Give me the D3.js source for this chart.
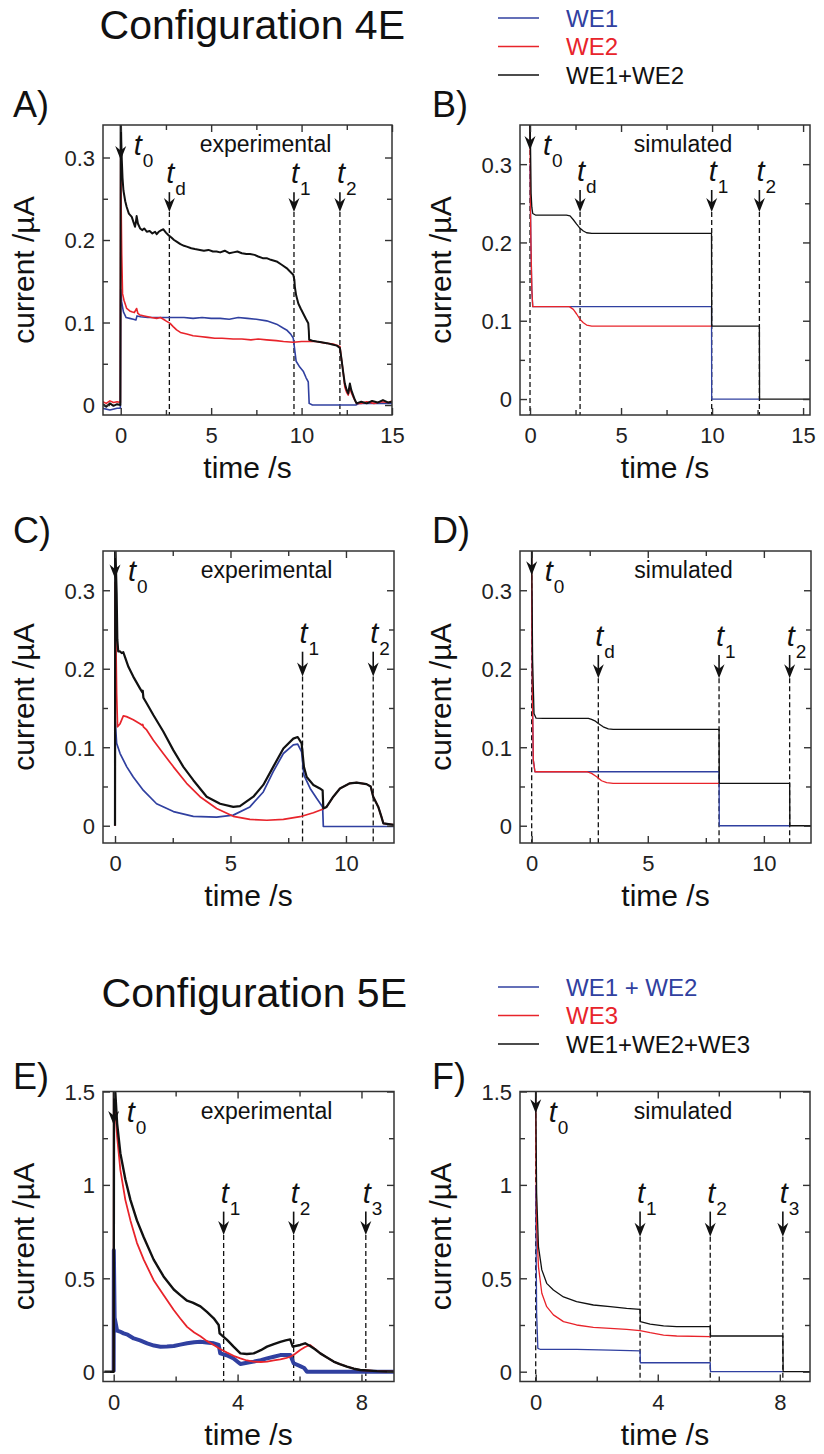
<!DOCTYPE html>
<html><head><meta charset="utf-8">
<script src="https://cdn.jsdelivr.net/npm/d3@7"></script>
<style>
body{margin:0;background:#fff}
svg text{font-family:"Liberation Sans",Arial,Helvetica,sans-serif}
</style></head>
<body><svg id="chart" width="824" height="1454"></svg>
<script>
// ---------------- DATA ----------------
// Panel A (config 4E, experimental) [time s, current µA]
const aBlue = [[-1.0,-0.004],[-0.6,-0.006],[-0.2,-0.004],[-0.02,-0.004],[0.0,0.14],[0.05,0.125],[0.15,0.113],[0.3,0.106],[0.5,0.105],[0.7,0.104],[0.84,0.103],[0.9,0.108],[1.1,0.107],[1.5,0.106],[2.0,0.106],[2.5,0.106],[3.0,0.106],[3.5,0.106],[4.0,0.105],[4.5,0.106],[5.0,0.105],[5.5,0.105],[6.0,0.104],[6.5,0.106],[7.0,0.105],[7.5,0.104],[8.07,0.102],[8.62,0.098],[9.0,0.093],[9.17,0.091],[9.4,0.086],[9.54,0.081],[9.63,0.065],[9.7,0.053],[9.9,0.046],[10.09,0.041],[10.25,0.033],[10.37,0.028],[10.42,0.002],[10.6,0.0],[11.0,0.0],[12.0,0.0],[13.0,0.0],[13.2,0.002],[15.0,0.002]];
const aRed = [[-1.0,0.004],[-0.8,0.002],[-0.6,0.005],[-0.4,0.003],[-0.2,0.004],[-0.02,0.003],[0.0,0.30],[0.03,0.23],[0.055,0.184],[0.1,0.135],[0.18,0.127],[0.33,0.117],[0.5,0.114],[0.61,0.113],[0.75,0.112],[0.88,0.117],[0.95,0.111],[1.07,0.109],[1.3,0.108],[1.5,0.107],[1.7,0.106],[1.99,0.105],[2.2,0.106],[2.36,0.104],[2.5,0.102],[2.73,0.099],[2.9,0.095],[3.09,0.091],[3.3,0.088],[3.65,0.086],[4.0,0.084],[4.38,0.083],[4.8,0.082],[5.2,0.081],[5.6,0.081],[6.22,0.080],[6.7,0.080],[7.2,0.079],[7.6,0.080],[8.07,0.079],[8.6,0.078],[9.0,0.077],[9.54,0.076],[10.0,0.077],[10.5,0.077],[10.83,0.077],[11.3,0.075],[11.75,0.074],[12.12,0.071],[12.21,0.055],[12.3,0.04],[12.39,0.022],[12.5,0.015],[12.58,0.012],[12.67,0.022],[12.75,0.015],[12.85,0.01],[13.04,0.002],[13.3,0.002],[13.6,0.004],[14.0,0.002],[14.4,0.004],[14.8,0.003],[15.0,0.005]];
const aBlack = [[-1.0,0.001],[-0.8,-0.002],[-0.6,0.002],[-0.4,-0.001],[-0.2,0.001],[-0.02,0.0],[0.0,0.36],[0.03,0.32],[0.06,0.297],[0.1,0.275],[0.15,0.26],[0.25,0.247],[0.33,0.24],[0.45,0.232],[0.61,0.228],[0.7,0.222],[0.79,0.216],[0.84,0.222],[0.88,0.229],[0.95,0.22],[1.07,0.214],[1.2,0.212],[1.3,0.214],[1.44,0.21],[1.6,0.211],[1.75,0.208],[1.9,0.21],[1.99,0.207],[2.1,0.21],[2.25,0.212],[2.36,0.213],[2.5,0.209],[2.63,0.206],[2.8,0.203],[2.95,0.2],[3.09,0.198],[3.3,0.195],[3.5,0.193],[3.65,0.192],[3.9,0.19],[4.1,0.189],[4.38,0.188],[4.6,0.187],[4.85,0.188],[5.1,0.186],[5.3,0.186],[5.5,0.185],[5.75,0.187],[6.0,0.184],[6.22,0.185],[6.45,0.186],[6.7,0.184],[6.95,0.183],[7.15,0.183],[7.4,0.182],[7.6,0.18],[7.85,0.178],[8.07,0.178],[8.3,0.176],[8.62,0.174],[8.9,0.17],[9.17,0.166],[9.4,0.161],[9.54,0.158],[9.6,0.152],[9.63,0.143],[9.7,0.133],[9.82,0.123],[9.95,0.117],[10.09,0.111],[10.25,0.104],[10.37,0.099],[10.40,0.09],[10.42,0.079],[10.6,0.078],[10.83,0.077],[11.1,0.076],[11.4,0.075],[11.75,0.073],[11.95,0.072],[12.12,0.069],[12.21,0.055],[12.3,0.04],[12.39,0.026],[12.5,0.018],[12.58,0.014],[12.67,0.026],[12.75,0.018],[12.85,0.012],[12.95,0.006],[13.04,0.002],[13.3,0.004],[13.6,0.002],[13.9,0.005],[14.2,0.003],[14.5,0.006],[14.8,0.003],[15.0,0.004]];
const aEventTimes = [0, 2.69, 9.58, 12.12];
const aEventSubs = ["0","d","1","2"];

// Panel B (config 4E, simulated)
const bBlue = [[0.0,0.3],[0.05,0.2],[0.1,0.14],[0.15,0.118],[2.16,0.118],[9.97,0.118],[9.98,0.0],[12.6,0.0]];
const bRed = [[0.0,0.35],[0.02,0.25],[0.05,0.2],[0.1,0.14],[0.15,0.118],[0.3,0.118],[2.16,0.118],[2.38,0.1145],[2.56,0.1086],[2.75,0.1017],[2.93,0.0975],[3.11,0.0945],[3.39,0.0932],[9.97,0.093]];
const bBlack = [[0.0,0.35],[0.03,0.32],[0.06,0.263],[0.1,0.245],[0.15,0.237],[0.3,0.235],[1.0,0.235],[2.0,0.235],[2.2,0.234],[2.38,0.229],[2.56,0.2235],[2.75,0.218],[2.93,0.2146],[3.11,0.2124],[3.39,0.2116],[5.0,0.2115],[9.97,0.2115],[9.98,0.093],[12.6,0.093],[12.61,0.0],[15.4,0.0]];
const bEventTimes = [0, 2.75, 9.98, 12.6];
const bEventSubs = ["0","d","1","2"];

// Panel C (config 4E, experimental)
const cBlue = [[0.0,0.0],[0.005,0.135],[0.07,0.105],[0.22,0.092],[0.51,0.075],[0.79,0.062],[1.23,0.045],[1.8,0.028],[2.53,0.018],[3.39,0.012],[4.4,0.011],[5.12,0.0135],[5.84,0.024],[6.42,0.043],[6.85,0.069],[7.29,0.092],[7.72,0.103],[7.91,0.104],[8.08,0.094],[8.18,0.0645],[8.45,0.0475],[8.73,0.035],[8.99,0.024],[9.02,-0.001],[12.1,-0.001]];
const cRed = [[0.0,0.0],[0.005,0.31],[0.07,0.169],[0.11,0.126],[0.22,0.130],[0.36,0.14],[0.5,0.139],[0.79,0.135],[1.08,0.13],[1.18,0.128],[1.2,0.129],[1.23,0.126],[1.37,0.122],[1.66,0.109],[2.09,0.092],[2.53,0.075],[3.1,0.054],[3.68,0.037],[4.4,0.022],[5.12,0.012],[5.84,0.008],[6.57,0.007],[7.29,0.008],[8.01,0.0115],[8.59,0.0165],[8.99,0.021],[9.02,0.022],[9.16,0.024],[9.45,0.037],[9.74,0.0475],[10.17,0.054],[10.46,0.055],[10.89,0.053],[11.07,0.05],[11.18,0.037],[11.40,0.024],[11.54,0.011],[11.62,0.003],[12.1,0.001]];
const cBlack = [[0.0,0.0],[0.01,0.36],[0.07,0.296],[0.1,0.237],[0.14,0.222],[0.22,0.222],[0.29,0.220],[0.36,0.221],[0.43,0.215],[0.58,0.2025],[0.79,0.19],[1.08,0.175],[1.18,0.170],[1.2,0.172],[1.23,0.163],[1.37,0.156],[1.66,0.141],[2.09,0.12],[2.53,0.096],[2.96,0.075],[3.39,0.058],[3.97,0.037],[4.55,0.028],[5.12,0.024],[5.41,0.025],[5.99,0.037],[6.42,0.052],[6.85,0.075],[7.29,0.0985],[7.72,0.111],[7.91,0.113],[8.08,0.105],[8.18,0.075],[8.30,0.062],[8.59,0.052],[8.87,0.0475],[8.99,0.045],[9.02,0.022],[9.16,0.024],[9.45,0.037],[9.74,0.0475],[10.17,0.054],[10.46,0.055],[10.89,0.053],[11.07,0.05],[11.18,0.037],[11.40,0.024],[11.54,0.011],[11.62,0.003],[12.1,0.001]];
const cEventTimes = [0, 8.12, 11.18];
const cEventSubs = ["0","1","2"];

// Panel D (config 4E, simulated)
const dBlue = [[0.0,0.3],[0.03,0.169],[0.07,0.084],[0.14,0.0688],[8.07,0.0688],[8.08,0.0],[11.11,0.0]];
const dRed = [[0.0,0.35],[0.01,0.25],[0.03,0.169],[0.07,0.084],[0.14,0.0688],[2.37,0.0688],[2.58,0.0667],[2.80,0.0624],[3.01,0.0573],[3.23,0.0548],[3.51,0.054],[8.07,0.054]];
const dBlack = [[0.0,0.35],[0.04,0.211],[0.1,0.143],[0.19,0.137],[0.5,0.1367],[2.44,0.1367],[2.58,0.1354],[2.72,0.1337],[2.87,0.1303],[3.08,0.126],[3.30,0.1235],[3.51,0.1227],[8.07,0.1227],[8.08,0.054],[11.11,0.054],[11.12,0.0],[12.1,0.0]];
const dEventTimes = [0, 2.87, 8.07, 11.11];
const dEventSubs = ["0","d","1","2"];

// Panel E (config 5E, experimental)
const eBlue = [[0.0,0.0],[0.005,0.65],[0.03,0.29],[0.11,0.22],[0.2,0.215],[0.32,0.205],[0.45,0.198],[0.65,0.178],[0.85,0.168],[1.08,0.152],[1.3,0.14],[1.51,0.134],[1.72,0.135],[1.94,0.1375],[2.15,0.145],[2.37,0.152],[2.6,0.158],[2.8,0.16],[3.0,0.156],[3.23,0.152],[3.39,0.143],[3.44,0.098],[3.65,0.088],[3.87,0.071],[4.09,0.041],[4.3,0.048],[4.52,0.054],[4.75,0.062],[4.95,0.071],[5.17,0.08],[5.38,0.089],[5.55,0.09],[5.70,0.089],[5.81,0.045],[6.02,0.030],[6.15,0.02],[6.24,0.0],[9.05,0.0]];
const eRed = [[0.0,0.0],[0.005,1.55],[0.054,1.40],[0.11,1.26],[0.215,1.08],[0.376,0.92],[0.54,0.81],[0.75,0.69],[0.97,0.60],[1.29,0.49],[1.61,0.41],[1.94,0.33],[2.15,0.285],[2.37,0.24],[2.6,0.21],[2.8,0.19],[3.0,0.165],[3.23,0.143],[3.45,0.12],[3.66,0.102],[3.87,0.085],[4.09,0.071],[4.3,0.06],[4.52,0.054],[4.75,0.052],[4.95,0.054],[5.17,0.06],[5.38,0.066],[5.55,0.072],[5.70,0.080],[5.85,0.095],[6.02,0.116],[6.18,0.132],[6.34,0.143],[6.5,0.122],[6.67,0.098],[6.9,0.075],[7.10,0.054],[7.3,0.04],[7.53,0.027],[7.75,0.016],[7.96,0.009],[8.5,0.003],[9.05,0.0]];
const eBlack = [[-0.3,0.0],[-0.02,0.0],[0.0,0.0],[0.01,1.55],[0.054,1.49],[0.11,1.33],[0.215,1.17],[0.376,1.03],[0.54,0.92],[0.75,0.81],[0.97,0.72],[1.29,0.60],[1.61,0.51],[1.94,0.44],[2.15,0.41],[2.37,0.38],[2.55,0.37],[2.8,0.35],[3.01,0.32],[3.23,0.286],[3.39,0.25],[3.42,0.205],[3.66,0.17],[3.87,0.134],[4.09,0.098],[4.3,0.095],[4.52,0.098],[4.75,0.115],[4.95,0.134],[5.17,0.148],[5.38,0.16],[5.55,0.168],[5.70,0.173],[5.78,0.134],[6.02,0.143],[6.18,0.152],[6.34,0.1375],[6.5,0.12],[6.67,0.098],[6.9,0.075],[7.10,0.054],[7.3,0.04],[7.53,0.027],[7.75,0.016],[7.96,0.009],[8.5,0.003],[9.05,0.0]];
const eEventTimes = [0, 3.55, 5.81, 8.14];
const eEventSubs = ["0","1","2","3"];

// Panel F (config 5E, simulated)
const fBlue = [[0.0,1.0],[0.03,0.3125],[0.07,0.125],[0.14,0.12],[1.34,0.12],[2.44,0.116],[3.42,0.111],[3.43,0.048],[5.72,0.048],[5.73,0.0],[8.1,0.0]];
const fRed = [[0.0,1.5],[0.005,1.19],[0.03,0.78],[0.09,0.5625],[0.2,0.42],[0.36,0.348],[0.58,0.304],[0.91,0.268],[1.34,0.25],[1.89,0.2375],[2.44,0.232],[2.98,0.227],[3.42,0.22],[3.75,0.209],[4.19,0.196],[4.62,0.191],[5.72,0.1875]];
const fBlack = [[0.0,1.5],[0.03,0.955],[0.09,0.67],[0.2,0.545],[0.36,0.473],[0.58,0.4375],[0.91,0.40],[1.34,0.375],[1.89,0.357],[2.44,0.348],[2.98,0.339],[3.42,0.334],[3.43,0.268],[3.75,0.255],[4.19,0.245],[4.62,0.241],[5.72,0.241],[5.73,0.191],[8.1,0.191],[8.11,0.0],[9.0,0.0]];
const fEventTimes = [0, 3.42, 5.72, 8.1];
const fEventSubs = ["0","1","2","3"];

// Tick values
const yTicksSmallMajor = [0, 0.1, 0.2, 0.3];
const yTicksSmallMinor = [0.05, 0.15, 0.25];
const yTicksLargeMajor = [0, 0.5, 1, 1.5];
const yTicksLargeMinor = [0.25, 0.75, 1.25];
const xTicks15Major = [0, 5, 10, 15];
const xTicks15Minor = [2.5, 7.5, 12.5];
const xTicks12Major = [0, 5, 10];
const xTicks12Minor = [2.5, 7.5];
const xTicks9Major = [0, 4, 8];
const xTicks9Minor = [2, 6];

// Legends
const legend4Labels = ["WE1", "WE2", "WE1+WE2"];
const legend5Labels = ["WE1 + WE2", "WE3", "WE1+WE2+WE3"];

// ---------------- STYLE / LAYOUT ----------------
const BLUE = "#3040a0", RED = "#e8242b", BLACK = "#111111", AX = "#333333";
const svg = d3.select("#chart");

const panels = [
  {id:"A", label:"A)", note:"experimental", left:103, right:392, top:125, bottom:415,
   xd:[-0.98,15.0], yd:[-0.0121,0.3394], xMaj:xTicks15Major, xMin:xTicks15Minor, yMaj:yTicksSmallMajor, yMin:yTicksSmallMinor,
   series:[[aBlue,BLUE,1.6],[aRed,RED,1.6],[aBlack,BLACK,2.0]], ev:aEventTimes, sub:aEventSubs, arrow:[0.258,0.234], t0tip:0.297, t0dash:false},
  {id:"B", label:"B)", note:"simulated", left:520, right:810, top:125, bottom:415,
   xd:[-0.55,15.38], yd:[-0.0204,0.35], xMaj:xTicks15Major, xMin:xTicks15Minor, yMaj:yTicksSmallMajor, yMin:yTicksSmallMinor,
   series:[[bBlue,BLUE,1.3],[bRed,RED,1.3],[bBlack,BLACK,1.3]], ev:bEventTimes, sub:bEventSubs, arrow:[0.267,0.239], t0tip:0.318, t0dash:true},
  {id:"C", label:"C)", note:"experimental", left:103, right:394, top:551, bottom:843,
   xd:[-0.52,12.08], yd:[-0.022,0.35], xMaj:xTicks12Major, xMin:xTicks12Minor, yMaj:yTicksSmallMajor, yMin:yTicksSmallMinor,
   series:[[cBlue,BLUE,1.7],[cRed,RED,1.7],[cBlack,BLACK,2.2]], ev:cEventTimes, sub:cEventSubs, arrow:[0.2217,0.19], t0tip:0.315, t0dash:false},
  {id:"D", label:"D)", note:"simulated", left:520, right:811, top:551, bottom:843,
   xd:[-0.503,12.03], yd:[-0.022,0.35], xMaj:xTicks12Major, xMin:xTicks12Minor, yMaj:yTicksSmallMajor, yMin:yTicksSmallMinor,
   series:[[dBlue,BLUE,1.3],[dRed,RED,1.3],[dBlack,BLACK,1.3]], ev:dEventTimes, sub:dEventSubs, arrow:[0.2175,0.188], t0tip:0.319, t0dash:true},
  {id:"E", label:"E)", note:"experimental", left:103, right:394, top:1091.5, bottom:1381.5,
   xd:[-0.345,9.05], yd:[-0.0525,1.5], xMaj:xTicks9Major, xMin:xTicks9Minor, yMaj:yTicksLargeMajor, yMin:yTicksLargeMinor,
   series:[[eBlue,BLUE,4],[eRed,RED,1.8],[eBlack,BLACK,2.4]], ev:eEventTimes, sub:eEventSubs, arrow:[0.857,0.732], t0tip:1.32, t0dash:false},
  {id:"F", label:"F)", note:"simulated", left:520, right:810, top:1091.5, bottom:1381.5,
   xd:[-0.515,8.99], yd:[-0.0525,1.5], xMaj:xTicks9Major, xMin:xTicks9Minor, yMaj:yTicksLargeMajor, yMin:yTicksLargeMinor,
   series:[[fBlue,BLUE,1.3],[fRed,RED,1.3],[fBlack,BLACK,1.3]], ev:fEventTimes, sub:fEventSubs, arrow:[0.857,0.723], t0tip:1.384, t0dash:true}
];

function tickAxis(g, axisFn, scale, vals, size, transform, fmt){
  const a = g.append("g").attr("transform", transform)
    .call(axisFn(scale).tickValues(vals).tickSizeInner(-size).tickSizeOuter(0).tickFormat(fmt || (() => "")));
  a.select(".domain").remove();
  a.selectAll("line").attr("stroke", AX).attr("stroke-width", 1.4);
  a.attr("font-family", null).attr("font-size", null);
  return a;
}

function arrowHead(g, xp, tip){
  g.append("path")
    .attr("d", `M${xp},${tip} L${xp-5.5},${tip-14} L${xp},${tip-9.5} L${xp+5.5},${tip-14} Z`)
    .attr("fill", BLACK);
}

panels.forEach(p => {
  const x = d3.scaleLinear().domain(p.xd).range([p.left, p.right]);
  const y = d3.scaleLinear().domain(p.yd).range([p.bottom, p.top]);
  const g = svg.append("g");
  const clipId = "clip" + p.id;
  svg.append("clipPath").attr("id", clipId).append("rect")
    .attr("x", p.left).attr("y", p.top).attr("width", p.right - p.left).attr("height", p.bottom - p.top);

  // event dashed lines
  p.ev.forEach((t, i) => {
    const xp = x(t);
    if (i === 0) {
      if (p.t0dash) g.append("line").attr("x1", xp).attr("x2", xp).attr("y1", y(p.t0tip)).attr("y2", p.bottom)
        .attr("stroke", BLACK).attr("stroke-width", 1.3).attr("stroke-dasharray", "5,3");
    } else {
      g.append("line").attr("x1", xp).attr("x2", xp).attr("y1", y(p.arrow[1])).attr("y2", p.bottom)
        .attr("stroke", BLACK).attr("stroke-width", 1.3).attr("stroke-dasharray", "5,3");
    }
  });

  // series
  const line = d3.line().x(d => x(d[0])).y(d => y(d[1]));
  const sg = g.append("g").attr("clip-path", `url(#${clipId})`);
  p.series.forEach(([data, color, w]) => {
    sg.append("path").attr("d", line(data)).attr("fill", "none").attr("stroke", color)
      .attr("stroke-width", w).attr("stroke-linejoin", "round");
  });

  // arrows + labels
  p.ev.forEach((t, i) => {
    const xp = x(t);
    let top, tip, tx, tyBase;
    if (i === 0) { top = p.top; tip = y(p.t0tip); tx = xp + 13; tyBase = p.top + 30; }
    else { top = y(p.arrow[0]); tip = y(p.arrow[1]); tx = xp - 3; tyBase = top - 9; }
    g.append("line").attr("x1", xp).attr("x2", xp).attr("y1", top).attr("y2", tip - 7)
      .attr("stroke", BLACK).attr("stroke-width", 1.6);
    arrowHead(g, xp, tip);
    g.append("text").attr("x", tx).attr("y", tyBase).attr("font-size", 29).attr("font-style", "italic")
      .attr("fill", BLACK).text("t");
    g.append("text").attr("x", tx + 9).attr("y", tyBase + 12).attr("font-size", 19)
      .attr("fill", BLACK).text(p.sub[i]);
  });

  // note text
  g.append("text").attr("x", (p.left + p.right) / 2 + 18).attr("y", p.top + 27).attr("text-anchor", "middle")
    .attr("font-size", 23).attr("fill", BLACK).text(p.note);

  // frame
  g.append("rect").attr("x", p.left).attr("y", p.top).attr("width", p.right - p.left).attr("height", p.bottom - p.top)
    .attr("fill", "none").attr("stroke", AX).attr("stroke-width", 1.5);

  // ticks
  const fmt = d => String(d);
  const bMaj = tickAxis(g, d3.axisBottom, x, p.xMaj, 7, `translate(0,${p.bottom})`, fmt);
  bMaj.selectAll("text").attr("y", 28).attr("dy", null).attr("font-size", 22).attr("fill", "#222");
  tickAxis(g, d3.axisBottom, x, p.xMin, 5, `translate(0,${p.bottom})`);
  tickAxis(g, d3.axisTop, x, p.xMaj, 7, `translate(0,${p.top})`);
  tickAxis(g, d3.axisTop, x, p.xMin, 5, `translate(0,${p.top})`);
  const lMaj = tickAxis(g, d3.axisLeft, y, p.yMaj, 7, `translate(${p.left},0)`, fmt);
  lMaj.selectAll("text").attr("x", -8).attr("dy", "0.36em").attr("font-size", 22).attr("fill", "#222");
  tickAxis(g, d3.axisLeft, y, p.yMin, 5, `translate(${p.left},0)`);
  tickAxis(g, d3.axisRight, y, p.yMaj, 7, `translate(${p.right},0)`);
  tickAxis(g, d3.axisRight, y, p.yMin, 5, `translate(${p.right},0)`);

  // axis titles
  g.append("text").attr("x", (p.left + p.right) / 2).attr("y", p.bottom + 63).attr("text-anchor", "middle")
    .attr("font-size", 30).attr("fill", BLACK).text("time /s");
  g.append("text").attr("transform", `translate(${p.left - 69},${(p.top + p.bottom) / 2}) rotate(-90)`)
    .attr("text-anchor", "middle").attr("font-size", 30).attr("fill", BLACK).text("current /µA");

  // panel label
  svg.append("text").attr("x", p.left < 300 ? 13 : 432).attr("y", p.top - (p.id === "E" || p.id === "F" ? 3 : 8))
    .attr("font-size", 36).attr("fill", BLACK).text(p.label);
});

// titles
svg.append("text").attr("x", 405).attr("y", 39).attr("text-anchor", "end").attr("font-size", 41).attr("fill", BLACK).text("Configuration 4E");
svg.append("text").attr("x", 407).attr("y", 1007).attr("text-anchor", "end").attr("font-size", 41).attr("fill", BLACK).text("Configuration 5E");

// legends
function legend(labels, y0){
  const colors = [BLUE, RED, BLACK];
  labels.forEach((lab, i) => {
    const yy = y0 + i * 28.5;
    svg.append("line").attr("x1", 498).attr("x2", 539).attr("y1", yy).attr("y2", yy)
      .attr("stroke", colors[i]).attr("stroke-width", 1.6);
    svg.append("text").attr("x", 566).attr("y", yy + 8.5).attr("font-size", 24).attr("fill", colors[i]).text(lab);
  });
}
legend(legend4Labels, 18);
legend(legend5Labels, 987);
</script></body></html>
